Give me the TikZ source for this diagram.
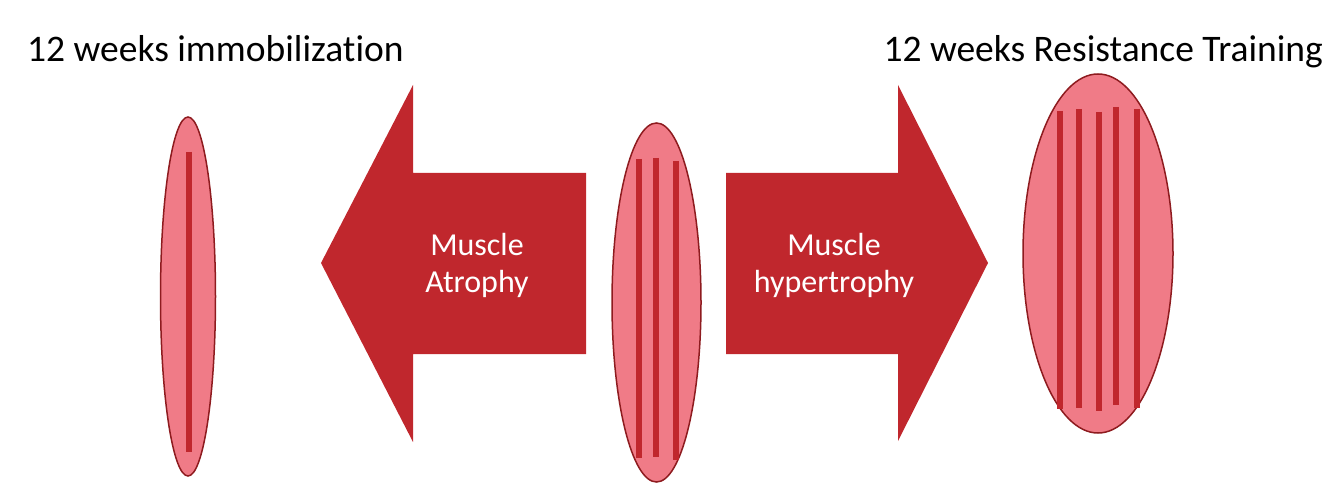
\documentclass[tikz,border=0pt]{standalone}
\usepackage{fontspec}
\setmainfont{Carlito}[Ligatures=NoCommon]
\usetikzlibrary{shapes.geometric}
\definecolor{arrowred}{HTML}{C0272D}
\definecolor{musclepink}{HTML}{F07B87}
\definecolor{muscleedge}{HTML}{8E1B1F}
\tikzset{
  muscle/.style={ellipse, draw=muscleedge, line width=1.5pt, fill=musclepink, inner sep=0pt},
  fibre/.style={draw=arrowred, line width=6pt},
  bigarrow/.style={fill=arrowred, draw=none},
  title/.style={font=\fontsize{37.5}{45}\selectfont, text=black, inner sep=0pt},
  arrowtext/.style={font=\fontsize{32}{37}\selectfont, text=white, inner sep=0pt, anchor=base}
}
\begin{document}
\begin{tikzpicture}[x=1pt,y=-1pt]
\useasboundingbox (0,0) rectangle (1334,500);
% arrows
\fill[bigarrow] (586,173) -- (413,173) -- (413,85) -- (321,263) -- (413,442) -- (413,354) -- (586,354) -- cycle;
\fill[bigarrow] (726,173) -- (898,173) -- (898,85) -- (988,263) -- (898,441) -- (898,354) -- (726,354) -- cycle;
\node[arrowtext] (atr1) at (477,255) {Muscle};
\node[arrowtext] (atr2) at (477,292) {Atrophy};
\node[arrowtext] (hyp1) at (834,255) {Muscle};
\node[arrowtext] (hyp2) at (834,292) {hypertrophy};
% muscles
\node[muscle, minimum width=55pt, minimum height=359pt] (mleft) at (188,296.5) {};
\node[muscle, minimum width=89pt, minimum height=359pt] (mmid) at (656.5,302.5) {};
\node[muscle, minimum width=150pt, minimum height=359pt] (mright) at (1098,253.5) {};
% fibres
\draw[fibre] (189,152) -- (189,452);
\draw[fibre] (639,159) -- (639,458);
\draw[fibre] (656,158) -- (656,457);
\draw[fibre] (676,161) -- (676,460);
\draw[fibre] (1060,111) -- (1060,409);
\draw[fibre] (1079,109) -- (1079,408);
\draw[fibre] (1099,112) -- (1099,411);
\draw[fibre] (1116,107) -- (1116,405);
\draw[fibre] (1137,109) -- (1137,408);
% titles
\node[title, anchor=base west] (tleft) at (27,62) {12 weeks immobilization};
\node[title, anchor=base east] (tright) at (1323,62) {12 weeks Resistance Training};
\end{tikzpicture}
\end{document}
